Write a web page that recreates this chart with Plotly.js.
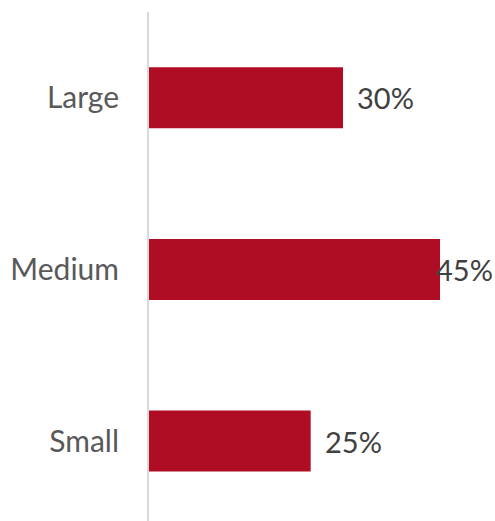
<!DOCTYPE html>
<html><head><meta charset="utf-8">
<script src="https://cdn.plot.ly/plotly-3.0.1.min.js"></script>
<style>html,body{margin:0;padding:0;background:#fff}#c{width:495px;height:521px}</style>
</head><body><div id="c"></div>
<script>
const categories = ["Large", "Medium", "Small"];
const values = [30, 45, 25];
const valueLabels = ["30%", "45%", "25%"];

const W = 495, H = 521, L = 149, T = 12;
const xMax = 53.5;
const pxPer = (W - L) / xMax;
const fontFam = "Lato, 'Open Sans', sans-serif";
const fs = 29;

const annotations = values.map((v, i) => {
  const end = L + v * pxPer;
  const estW = valueLabels[i].length * fs * 0.62;
  if (end + 15 + estW > W) {
    return {x: 1, xref: 'paper', y: categories[i], yref: 'y', text: valueLabels[i], showarrow: false,
      xanchor: 'right', yanchor: 'middle', font: {family: fontFam, size: fs, color: '#404040'}};
  }
  return {x: v, xref: 'x', y: categories[i], yref: 'y', text: valueLabels[i], showarrow: false,
    xanchor: 'left', yanchor: 'middle', xshift: 12, font: {family: fontFam, size: fs, color: '#404040'}};
});

Plotly.newPlot('c', [{
  type: 'bar', orientation: 'h', x: values, y: categories,
  marker: {color: '#AF0D24', line: {width: 0}}, width: 0.355, hoverinfo: 'none'
}], {
  width: W, height: H, margin: {l: L, r: 0, t: T, b: 0, pad: 0},
  paper_bgcolor: '#fff', plot_bgcolor: '#fff', showlegend: false,
  xaxis: {range: [0, xMax], showgrid: false, zeroline: false, showticklabels: false, showline: false, fixedrange: true},
  yaxis: {type: 'category', categoryorder: 'array', categoryarray: categories,
    range: [2.466, -0.5], autorange: false, showgrid: false, zeroline: false,
    showline: true, linecolor: '#D9D9D9', linewidth: 2,
    ticks: 'outside', ticklen: 22, tickcolor: 'rgba(0,0,0,0)',
    tickfont: {family: fontFam, size: 30, color: '#595959'}},
  annotations: annotations
}, {displayModeBar: false, staticPlot: true});
</script></body></html>
